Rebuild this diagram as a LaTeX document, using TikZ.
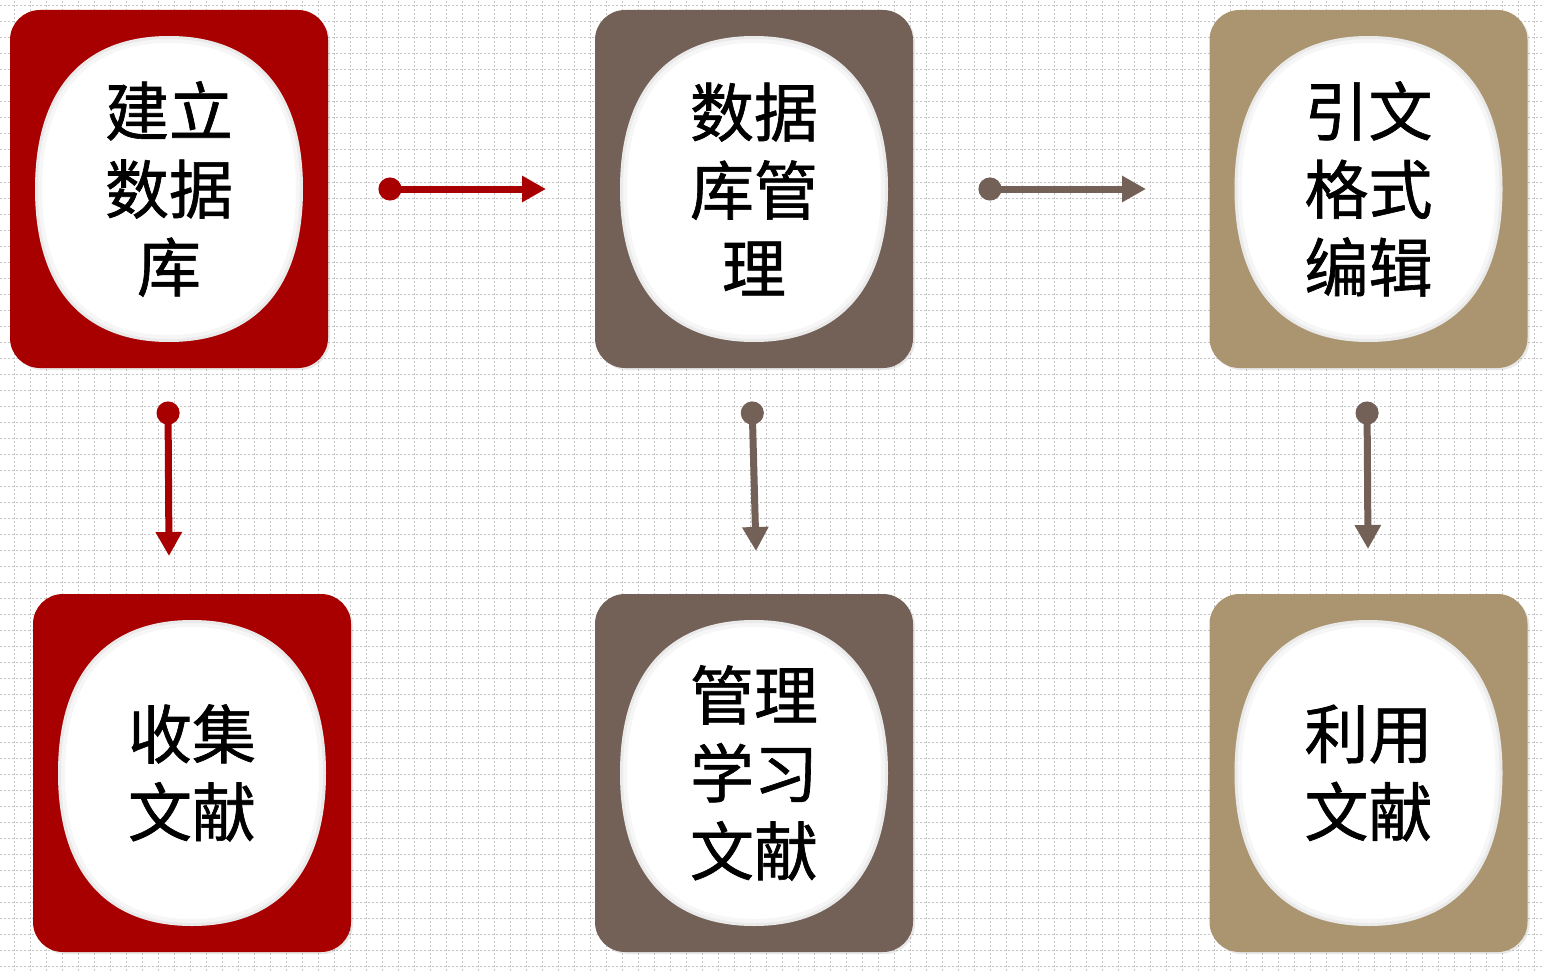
\documentclass[tikz,border=0pt]{standalone}
\usepackage{fontspec}
\usepackage{tikz}
\usetikzlibrary{positioning,arrows.meta,shadows}
\newfontfamily\cjk[FakeBold=1]{Noto Sans CJK SC}
\definecolor{tilered}{HTML}{A80000}
\definecolor{tilebrown}{HTML}{736056}
\definecolor{tiletan}{HTML}{AB9570}
\newcommand{\blobpath}{(134,0) .. controls (134,-98) and (87,-153) .. (0,-153) .. controls (-87,-153) and (-134,-98) .. (-134,0) .. controls (-134,98) and (-87,153) .. (0,153) .. controls (87,153) and (134,98) .. (134,0) -- cycle}
\newcommand{\blobat}[1]{%
  \begin{scope}[shift={(#1.center)}]
    \fill[white] \blobpath;
    \clip \blobpath;
    \draw[black!60, opacity=.06, line width=14pt] \blobpath;
    \draw[black!60, opacity=.08, line width=6pt] \blobpath;
  \end{scope}}
\tikzset{
  tile/.style={rounded corners=30pt, minimum width=318pt, minimum height=358pt, inner sep=0pt,
    drop shadow={opacity=.18, shadow xshift=2pt, shadow yshift=-2pt}},
  tiletext/.style={align=center, font=\cjk\fontsize{64pt}{78pt}\selectfont},
  gridline/.style={black!22, line width=1pt, dash pattern=on 2pt off 2pt},
  redarrow/.style={tilered, line width=7pt, {Circle[length=23pt]}-{Triangle[length=24pt,width=25pt]}},
  brownarrow/.style={tilebrown, line width=7pt, {Circle[length=23pt]}-{Triangle[length=24pt,width=25pt]}}
}

\begin{document}
\begin{tikzpicture}[x=1pt,y=-1pt]
  \useasboundingbox (0,0) rectangle (1542,971);
  % background grid
  \draw[gridline, shift={(14,6)}] (-14,-6) grid[xstep=16pt, ystep=16pt] (1528,965);
  % upper tiles
  \node[tile, fill=tilered] at(169,189)(t1){};
  \node[tile, fill=tilebrown] at(754,189)(t2){};
  \node[tile, fill=tiletan] at(1368.5,189)(t3){};
  % lower tiles
  \node[tile, fill=tilered] at(192,773)(t4){};
  \node[tile, fill=tilebrown] at(754,773)(t5){};
  \node[tile, fill=tiletan] at(1368.5,773)(t6){};
  % white faces
  \blobat{t1}
  \blobat{t2}
  \blobat{t3}
  \blobat{t4}
  \blobat{t5}
  \blobat{t6}
  % texts
  \node[tiletext] at(t1)(l1){建立\\数据\\库};
  \node[tiletext] at(t2)(l2){数据\\库管\\理};
  \node[tiletext] at(t3)(l3){引文\\格式\\编辑};
  \node[tiletext] at(t4)(l4){收集\\文献};
  \node[tiletext] at(t5)(l5){管理\\学习\\文献};
  \node[tiletext] at(t6)(l6){利用\\文献};
  % arrow ends
  \coordinate (a1) at (378.5,189);
  \coordinate (b1) at (546,189);
  \coordinate (a2) at (978.5,189);
  \coordinate (b2) at (1146,189);
  \coordinate (a3) at (168,401.5);
  \coordinate (b3) at (169,556);
  \coordinate (a4) at (752,401.5);
  \coordinate (b4) at (756,551);
  \coordinate (a5) at (1367,401.5);
  \coordinate (b5) at (1368,549);
  % arrows
  \draw[redarrow] (a1) -- (b1);
  \draw[brownarrow] (a2) -- (b2);
  \draw[redarrow] (a3) -- (b3);
  \draw[brownarrow] (a4) -- (b4);
  \draw[brownarrow] (a5) -- (b5);
\end{tikzpicture}
\end{document}
